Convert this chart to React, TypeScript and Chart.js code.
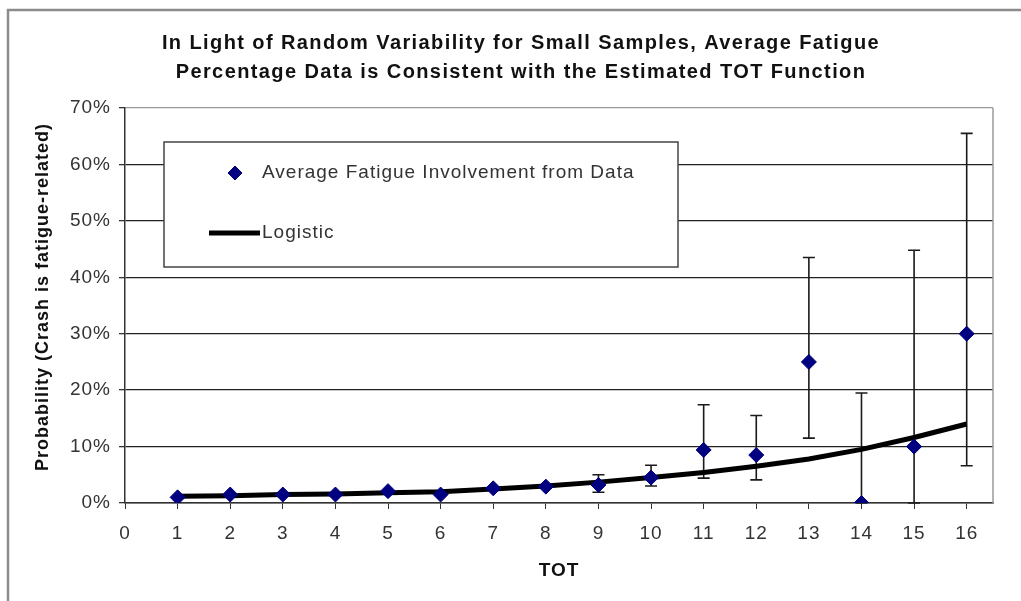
import React, { useEffect, useRef } from 'react';
import { Chart, registerables } from 'chart.js';

Chart.register(...registerables);

// ---- chart text ----
const chartTitle = [
  'In Light of Random Variability for Small Samples, Average Fatigue',
  'Percentage Data is Consistent with the Estimated TOT Function',
];
const yAxisTitle = 'Probability (Crash is fatigue-related)';
const xAxisTitle = 'TOT';
const legendLabels = ['Average Fatigue Involvement from Data', 'Logistic'];

// ---- data (percent) ----
const totHours = [1, 2, 3, 4, 5, 6, 7, 8, 9, 10, 11, 12, 13, 14, 15, 16];
const avgFatigue = [1.0, 1.5, 1.5, 1.5, 2.1, 1.5, 2.6, 2.9, 3.2, 4.5, 9.4, 8.5, 25.0, 0.0, 10.0, 30.0];
const errUpper = [null, null, null, null, null, null, null, null, 5.0, 6.7, 17.4, 15.5, 43.5, 19.5, 44.8, 65.5];
const errLower = [null, null, null, null, null, null, null, null, 1.9, 3.0, 4.4, 4.1, 11.5, 0.0, 0.0, 6.6];
const logistic = [1.2, 1.3, 1.5, 1.6, 1.8, 2.0, 2.5, 3.0, 3.7, 4.5, 5.4, 6.5, 7.8, 9.5, 11.6, 14.0];

// ---- axis ticks ----
const xTicks = [0, 1, 2, 3, 4, 5, 6, 7, 8, 9, 10, 11, 12, 13, 14, 15, 16];
const yTicks = [0, 10, 20, 30, 40, 50, 60, 70];

const NAVY = '#000080';
const FONT = '"Liberation Sans", Arial, sans-serif';

function drawDiamond(ctx: CanvasRenderingContext2D, x: number, y: number, r: number) {
  ctx.beginPath();
  ctx.moveTo(x - r, y);
  ctx.lineTo(x, y - r);
  ctx.lineTo(x + r, y);
  ctx.lineTo(x, y + r);
  ctx.closePath();
  ctx.fillStyle = NAVY;
  ctx.fill();
  ctx.strokeStyle = NAVY;
  ctx.lineWidth = 1;
  ctx.stroke();
}

const decorPlugin = {
  id: 'decor',
  beforeDraw(chart: any) {
    const ctx: CanvasRenderingContext2D = chart.ctx;
    ctx.save();
    ctx.fillStyle = '#ffffff';
    ctx.fillRect(0, 0, chart.width, chart.height);
    // outer frame (left and top edges)
    ctx.strokeStyle = '#8c8c8c';
    ctx.lineWidth = 2.5;
    ctx.beginPath();
    ctx.moveTo(8, chart.height);
    ctx.lineTo(8, 10);
    ctx.lineTo(chart.width, 10);
    ctx.stroke();
    ctx.restore();
    (ctx as any).letterSpacing = '1px';
  },
  beforeDatasetsDraw(chart: any) {
    const ctx: CanvasRenderingContext2D = chart.ctx;
    const a = chart.chartArea;
    const xs = chart.scales.x;
    const ys = chart.scales.y;
    ctx.save();
    // right edge of the plot area
    ctx.strokeStyle = '#9a9a9a';
    ctx.lineWidth = 1.5;
    ctx.beginPath();
    ctx.moveTo(a.right, a.top);
    ctx.lineTo(a.right, a.bottom);
    ctx.stroke();
    // error bars
    ctx.strokeStyle = '#1a1a1a';
    ctx.lineWidth = 1.6;
    totHours.forEach((t, i) => {
      const hi = errUpper[i];
      const lo = errLower[i];
      if (hi == null || lo == null) return;
      const x = xs.getPixelForValue(t);
      const yHi = ys.getPixelForValue(hi);
      const yLo = ys.getPixelForValue(lo);
      ctx.beginPath();
      ctx.moveTo(x, yHi);
      ctx.lineTo(x, yLo);
      ctx.moveTo(x - 6, yHi);
      ctx.lineTo(x + 6, yHi);
      ctx.moveTo(x - 6, yLo);
      ctx.lineTo(x + 6, yLo);
      ctx.stroke();
    });
    ctx.restore();
  },
  afterDraw(chart: any) {
    const ctx: CanvasRenderingContext2D = chart.ctx;
    const a = chart.chartArea;
    ctx.save();

    // chart title
    (ctx as any).letterSpacing = '1.4px';
    ctx.fillStyle = '#111111';
    ctx.font = `bold 20px ${FONT}`;
    ctx.textAlign = 'center';
    ctx.textBaseline = 'middle';
    ctx.fillText(chartTitle[0], 521, 43);
    ctx.fillText(chartTitle[1], 521, 72);

    // axis titles
    (ctx as any).letterSpacing = '1px';
    ctx.font = `bold 18px ${FONT}`;
    ctx.save();
    ctx.translate(43, 297);
    ctx.rotate(-Math.PI / 2);
    ctx.fillText(yAxisTitle, 0, 0);
    ctx.restore();
    ctx.font = `bold 19px ${FONT}`;
    ctx.fillText(xAxisTitle, (a.left + a.right) / 2, 571);

    // legend box
    ctx.fillStyle = '#ffffff';
    ctx.fillRect(164, 142, 514, 125);
    ctx.strokeStyle = '#444444';
    ctx.lineWidth = 1.5;
    ctx.strokeRect(164, 142, 514, 125);

    drawDiamond(ctx, 235, 173, 7);
    ctx.strokeStyle = '#000000';
    ctx.lineWidth = 5;
    ctx.beginPath();
    ctx.moveTo(209, 233);
    ctx.lineTo(260, 233);
    ctx.stroke();

    ctx.fillStyle = '#333333';
    ctx.font = `19px ${FONT}`;
    ctx.textAlign = 'left';
    ctx.textBaseline = 'middle';
    ctx.fillText(legendLabels[0], 262, 173);
    ctx.fillText(legendLabels[1], 262, 233);
    ctx.restore();
  },
};

export default function App() {
  const canvasRef = useRef<HTMLCanvasElement | null>(null);

  useEffect(() => {
    const canvas = canvasRef.current;
    if (!canvas) return;
    Chart.defaults.font.family = FONT;

    const chart = new Chart(canvas, {
      type: 'scatter',
      data: {
        datasets: [
          {
            label: legendLabels[0],
            data: totHours.map((t, i) => ({ x: t, y: avgFatigue[i] })),
            showLine: false,
            pointStyle: 'rectRot',
            pointRadius: 7.5,
            pointHoverRadius: 7.5,
            backgroundColor: NAVY,
            borderColor: NAVY,
            borderWidth: 1,
          },
          {
            label: legendLabels[1],
            data: totHours.map((t, i) => ({ x: t, y: logistic[i] })),
            showLine: true,
            borderColor: '#000000',
            backgroundColor: '#000000',
            borderWidth: 5,
            pointRadius: 0,
            pointHoverRadius: 0,
            tension: 0,
          },
        ],
      },
      options: {
        responsive: false,
        animation: false,
        events: [],
        layout: { padding: { left: 0, right: 28, top: 108, bottom: 0 } },
        plugins: {
          legend: { display: false },
          title: { display: false },
          tooltip: { enabled: false },
        },
        scales: {
          x: {
            type: 'linear',
            min: 0,
            max: 16.5,
            afterBuildTicks: (scale: any) => {
              scale.ticks = xTicks.map((v) => ({ value: v }));
            },
            afterFit: (scale: any) => {
              scale.height = 98;
            },
            ticks: {
              autoSkip: false,
              maxRotation: 0,
              padding: 13,
              color: '#333333',
              font: { size: 19 },
              callback: (v: any) => String(v),
            },
            grid: {
              drawOnChartArea: false,
              drawTicks: true,
              tickLength: 6,
              tickColor: '#333333',
            },
            border: { color: '#333333', width: 1.5 },
          },
          y: {
            type: 'linear',
            min: 0,
            max: 70,
            afterBuildTicks: (scale: any) => {
              scale.ticks = yTicks.map((v) => ({ value: v }));
            },
            afterFit: (scale: any) => {
              scale.width = 125;
            },
            ticks: {
              padding: 8,
              color: '#333333',
              font: { size: 19 },
              callback: (v: any) => `${v}%`,
            },
            grid: {
              color: (c: any) => (c.tick && c.tick.value === 70 ? '#9a9a9a' : '#222222'),
              lineWidth: 1.3,
              drawTicks: true,
              tickLength: 6,
              tickColor: '#333333',
            },
            border: { color: '#333333', width: 1.5 },
          },
        },
      },
      plugins: [decorPlugin],
    } as any);

    return () => chart.destroy();
  }, []);

  return (
    <div style={{ position: 'fixed', left: 0, top: 0, width: 1021, height: 601, background: '#fff' }}>
      <canvas ref={canvasRef} width={1021} height={601} style={{ display: 'block' }} />
    </div>
  );
}
